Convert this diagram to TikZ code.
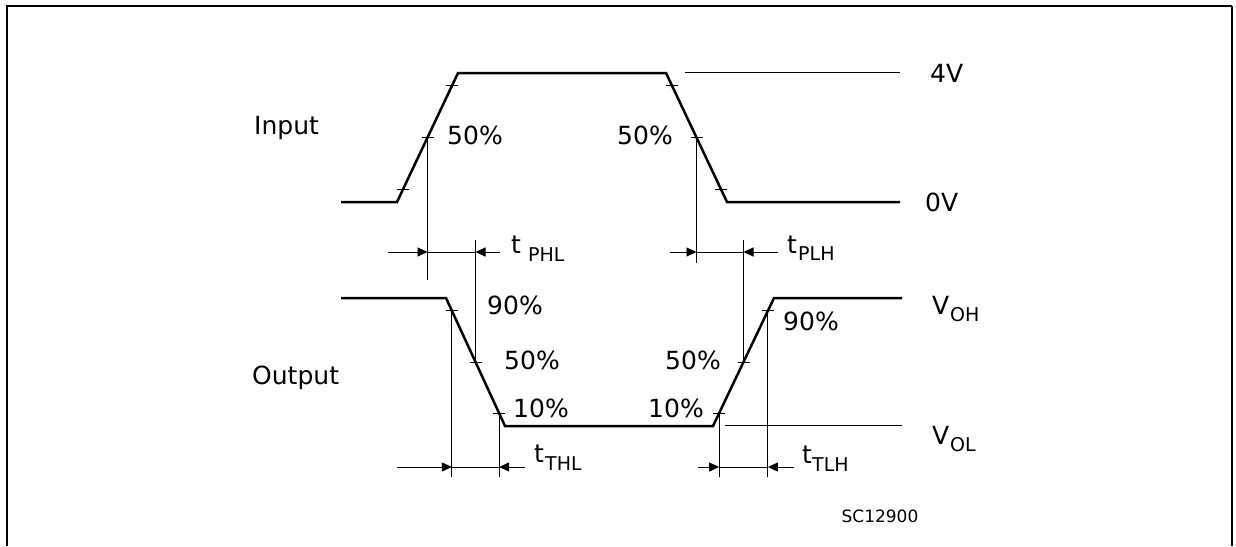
\documentclass[tikz,border=0pt]{standalone}
\usepackage{fontspec}
\setmainfont{DejaVu Sans}
\usetikzlibrary{arrows.meta,calc}
\begin{document}
\begin{tikzpicture}[x=1pt,y=-1pt,
  wave/.style={line width=2.5pt, line join=miter},
  hair/.style={line width=0.9pt},
  dim/.style={hair, -{Triangle[length=10pt,width=9pt]}},
  lbl/.style={inner sep=0pt, anchor=base west, font=\fontsize{25}{25}\selectfont},
  lble/.style={lbl, anchor=base east},
  sub/.style={inner sep=0pt, anchor=base west, font=\fontsize{19}{19}\selectfont},
  code/.style={inner sep=0pt, anchor=base, font=\fontsize{17}{17}\selectfont},
  frame/.style={line width=2.7pt},
]
\useasboundingbox (0,0) rectangle (1236,546);
\newcommand\tickat[1]{\draw[hair] (#1) ++(-6,0) -- ++(12,0);}
% frame
\coordinate (fBL) at (7,546);
\coordinate (fTL) at (7,6);
\coordinate (fTR) at (1232,6);
\coordinate (fBR) at (1232,546);
\draw[frame] (fBL) -- (fTL) -- (fTR);
\draw[line width=1.6pt] (fTR) -- (fBR);
% row coordinates
\coordinate (ra) at (0,252);
\coordinate (rb) at (0,467);
\coordinate (ya) at (0,240);
\coordinate (yb) at (0,280);
\coordinate (yc) at (0,263);
\coordinate (yd) at (0,477);
% input waveform
\coordinate (i0) at (341,202);
\coordinate (i1) at (397,202);
\coordinate (i2) at (458,73);
\coordinate (i3) at (666,73);
\coordinate (i4) at (727,202);
\coordinate (i5) at (900,202);
\draw[wave] (i0) -- (i1) -- (i2) -- (i3) -- (i4) -- (i5);
\coordinate (ir10) at ($(i1)!0.1!(i2)$);
\coordinate (ir50) at ($(i1)!0.5!(i2)$);
\coordinate (ir90) at ($(i1)!0.9!(i2)$);
\coordinate (if10) at ($(i4)!0.1!(i3)$);
\coordinate (if50) at ($(i4)!0.5!(i3)$);
\coordinate (if90) at ($(i4)!0.9!(i3)$);
\tickat{ir10}\tickat{ir50}\tickat{ir90}
\tickat{if10}\tickat{if50}\tickat{if90}
% 4V reference line
\coordinate (v4a) at (685,72);
\coordinate (v4b) at (900,72);
\draw[hair] (v4a) -- (v4b);
% output waveform
\coordinate (o0) at (341,298);
\coordinate (o1) at (446,298);
\coordinate (o2) at (505,426);
\coordinate (o3) at (713,426);
\coordinate (o4) at (774,298);
\coordinate (o5) at (902,298);
\draw[wave] (o0) -- (o1) -- (o2) -- (o3) -- (o4) -- (o5);
\coordinate (of90) at ($(o2)!0.9!(o1)$);
\coordinate (of50) at ($(o2)!0.5!(o1)$);
\coordinate (of10) at ($(o2)!0.1!(o1)$);
\coordinate (or10) at ($(o3)!0.1!(o4)$);
\coordinate (or50) at ($(o3)!0.5!(o4)$);
\coordinate (or90) at ($(o3)!0.9!(o4)$);
\tickat{of10}\tickat{of50}\tickat{of90}
\tickat{or10}\tickat{or50}\tickat{or90}
% VOL reference line
\coordinate (vla) at (725,425);
\coordinate (vlb) at (902,425);
\draw[hair] (vla) -- (vlb);
% tPHL
\draw[hair] (ir50) -- (ir50 |- yb);
\draw[hair] (of50 |- ya) -- (of50);
\draw[dim] ($(ir50 |- ra)+(-40,0)$) -- (ir50 |- ra);
\draw[hair] (ir50 |- ra) -- (of50 |- ra);
\draw[dim] ($(of50 |- ra)+(24,0)$) -- (of50 |- ra);
% tPLH
\draw[hair] (if50) -- (if50 |- yc);
\draw[hair] (or50 |- ya) -- (or50);
\draw[dim] ($(if50 |- ra)+(-27,0)$) -- (if50 |- ra);
\draw[hair] (if50 |- ra) -- (or50 |- ra);
\draw[dim] ($(or50 |- ra)+(34,0)$) -- (or50 |- ra);
% tTHL
\draw[hair] (of90) -- (of90 |- yd);
\draw[hair] (of10) -- (of10 |- yd);
\draw[dim] ($(of90 |- rb)+(-55,0)$) -- (of90 |- rb);
\draw[hair] (of90 |- rb) -- (of10 |- rb);
\draw[dim] ($(of10 |- rb)+(26,0)$) -- (of10 |- rb);
% tTLH
\draw[hair] (or10) -- (or10 |- yd);
\draw[hair] (or90) -- (or90 |- yd);
\draw[dim] ($(or10 |- rb)+(-21,0)$) -- (or10 |- rb);
\draw[hair] (or10 |- rb) -- (or90 |- rb);
\draw[dim] ($(or90 |- rb)+(26,0)$) -- (or90 |- rb);
% labels
\node[lbl] (lin) at (254,134) {Input};
\node[lbl] (lout) at (252,384) {Output};
\node[lbl] (p50a) at (447,144) {50\%};
\node[lble] (p50b) at (673,144) {50\%};
\node[lbl] (l4v) at (930,82) {4V};
\node[lbl] (l0v) at (925,211) {0V};
\node[lbl] (p90a) at (487,314) {90\%};
\node[lbl] (p50c) at (504,369) {50\%};
\node[lbl] (p10a) at (513,417) {10\%};
\node[lble] (p50d) at (721,369) {50\%};
\node[lble] (p10b) at (704,417) {10\%};
\node[lbl] (p90b) at (783,330) {90\%};
\node[lbl] (voh) at (932,314) {V};
\node[sub] (vohs) at (950,321) {OH};
\node[lbl] (vol) at (932,444) {V};
\node[sub] (vols) at (950,451) {OL};
\node[lbl] (tphl) at (511,253) {t};
\node[sub] (tphls) at (528,261) {PHL};
\node[lbl] (tplh) at (787,253) {t};
\node[sub] (tplhs) at (798,260) {PLH};
\node[lbl] (tthl) at (534,462) {t};
\node[sub] (tthls) at (545,470) {THL};
\node[lbl] (ttlh) at (802,463) {t};
\node[sub] (ttlhs) at (812,471) {TLH};
\node[code] (sc) at (880,522) {SC12900};
\end{tikzpicture}
\end{document}
